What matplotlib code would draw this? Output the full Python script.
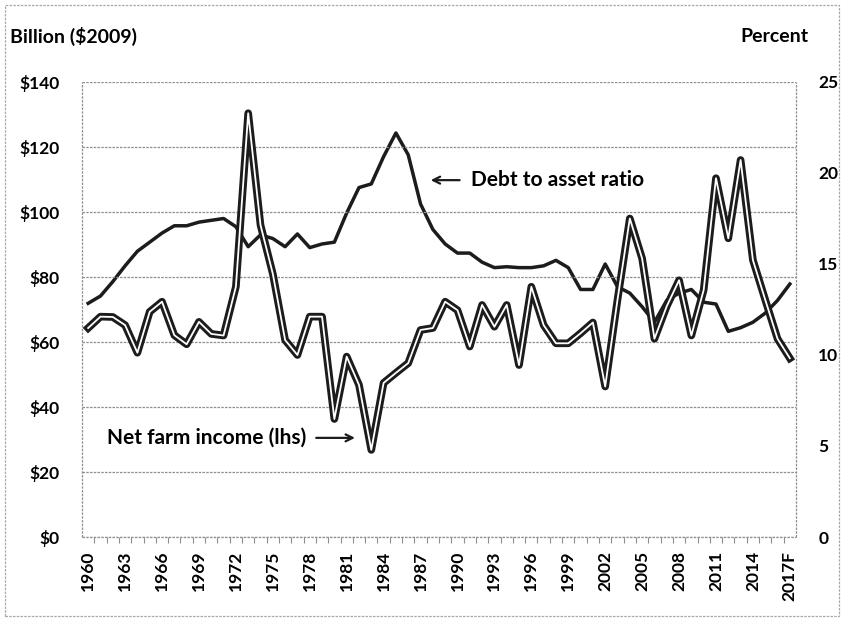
import matplotlib
matplotlib.use("Agg")
import matplotlib.pyplot as plt
from matplotlib.patches import Rectangle

plt.rcParams['font.family'] = ['Lato', 'DejaVu Sans']
plt.rcParams['font.weight'] = 'bold'

years = list(range(1960, 2018))

# net farm income, billion $2009 (left axis)
farm_income = [64.3, 67.8, 67.7, 65.2, 56.7, 69.3, 72.4, 62.1, 59.3, 66.2,
               62.5, 62.0, 77.0, 130.4, 96.0, 81.0, 60.6, 56.0, 67.8, 67.8,
               36.3, 55.5, 46.8, 26.8, 47.4, 50.5, 53.5, 63.7, 64.3, 72.4,
               69.8, 58.6, 71.4, 64.7, 71.4, 52.9, 77.0, 65.2, 59.6, 59.6,
               62.7, 66.0, 46.3, 73.0, 98.0, 85.7, 61.0, 71.0, 79.0, 62.0,
               76.0, 110.4, 91.9, 116.0, 85.2, 73.0, 61.0, 55.0]

# debt to asset ratio, percent (right axis)
debt_ratio = [12.84, 13.24, 14.03, 14.9, 15.7, 16.2, 16.7, 17.1, 17.1, 17.3,
              17.4, 17.5, 17.05, 15.95, 16.6, 16.4, 15.95, 16.65, 15.9, 16.1,
              16.2, 17.8, 19.2, 19.4, 20.9, 22.2, 21.0, 18.3, 16.9, 16.1,
              15.6, 15.6, 15.1, 14.8, 14.85, 14.8, 14.8, 14.9, 15.2, 14.8,
              13.6, 13.6, 15.0, 13.75, 13.4, 12.65, 11.8, 13.0, 13.4, 13.6,
              12.9, 12.8, 11.3, 11.5, 11.8, 12.3, 13.0, 13.9]

tick_years = list(range(1960, 2018, 3))
tick_labels = [str(y) for y in tick_years[:-1]] + ['2017F']
left_ticks = [0, 20, 40, 60, 80, 100, 120, 140]
left_labels = ['$' + str(v) for v in left_ticks]
right_ticks = [0, 5, 10, 15, 20, 25]

fig = plt.figure(figsize=(8.42, 6.19), dpi=100)
ax = fig.add_axes([82 / 842, 82 / 619, 714 / 842, 455 / 619])
ax2 = ax.twinx()

grid_col = '#8f8f8f'
dots = (0, (2, 1))

# debt ratio underneath, farm income on top
ax2.plot(years, debt_ratio, color='#1c1c1c', lw=2.5, solid_joinstyle='round')
ax.plot(years, farm_income, color='#1c1c1c', lw=5.5, solid_joinstyle='round', zorder=3)
ax.plot(years, farm_income, color='white', lw=1.3, solid_joinstyle='round', zorder=4)
ax.set_zorder(ax2.get_zorder() + 1)
ax.patch.set_visible(False)

ax.set_xlim(1959.5, 2017.5)
ax.set_ylim(0, 140)
ax2.set_ylim(0, 25)

ax.set_yticks(left_ticks)
ax.set_yticklabels(left_labels, fontsize=12.5, fontweight='bold')
ax2.set_yticks(right_ticks)
ax2.set_yticklabels([str(v) for v in right_ticks], fontsize=12.5, fontweight='bold')
ax.tick_params(axis='y', length=0, pad=16)
ax2.tick_params(axis='y', length=0, pad=16)
ax.yaxis.grid(True, color=grid_col, lw=0.9, ls=dots)
ax.set_axisbelow(True)

ax.set_xticks(tick_years)
ax.set_xticklabels(tick_labels, rotation=90, fontsize=12.5, fontweight='bold')
ax.set_xticks([y + 0.5 for y in years[:-1]], minor=True)
ax.tick_params(axis='x', which='major', length=0, pad=10)
ax.tick_params(axis='x', which='minor', length=4, color=grid_col, width=0.8)

ax.spines['top'].set_visible(False)
ax2.spines['top'].set_visible(False)
for s in ('left', 'right', 'bottom'):
    ax.spines[s].set_visible(False)
    ax2.spines[s].set_visible(False)
# plot frame drawn as plain lines so the dotted style shows
ax.plot([1959.5, 1959.5], [0, 140], color=grid_col, lw=0.9, ls=dots, zorder=1, clip_on=False)
ax.plot([2017.5, 2017.5], [0, 140], color=grid_col, lw=0.9, ls=dots, zorder=1, clip_on=False)
ax.plot([1959.5, 2017.5], [0, 0], color=grid_col, lw=0.9, ls=dots, zorder=1, clip_on=False)

# annotations
ax.text(1977.7, 30.5, 'Net farm income (lhs)', ha='right', va='center',
        fontsize=15, fontweight='bold')
ax.annotate('', xy=(1981.9, 30.5), xytext=(1978.3, 30.5),
            arrowprops=dict(arrowstyle='->,head_length=0.5,head_width=0.25', lw=1.6, color='#1c1c1c'))
ax.text(1991.1, 109.8, 'Debt to asset ratio', ha='left', va='center',
        fontsize=15, fontweight='bold')
ax.annotate('', xy=(1987.6, 109.8), xytext=(1990.4, 109.8),
            arrowprops=dict(arrowstyle='->,head_length=0.5,head_width=0.25', lw=1.6, color='#1c1c1c'))

fig.text(10 / 842, 1 - 36 / 619, 'Billion ($2009)', ha='left', va='center',
         fontsize=14, fontweight='bold')
fig.text(808 / 842, 1 - 36 / 619, 'Percent', ha='right', va='center',
         fontsize=14, fontweight='bold')

fig.patches.append(Rectangle((5 / 842, 3 / 619), 834 / 842, 611 / 619, transform=fig.transFigure,
                             fill=False, edgecolor='#a8a8a8', lw=0.9, ls=dots))

fig.savefig('out.png', dpi=100)
